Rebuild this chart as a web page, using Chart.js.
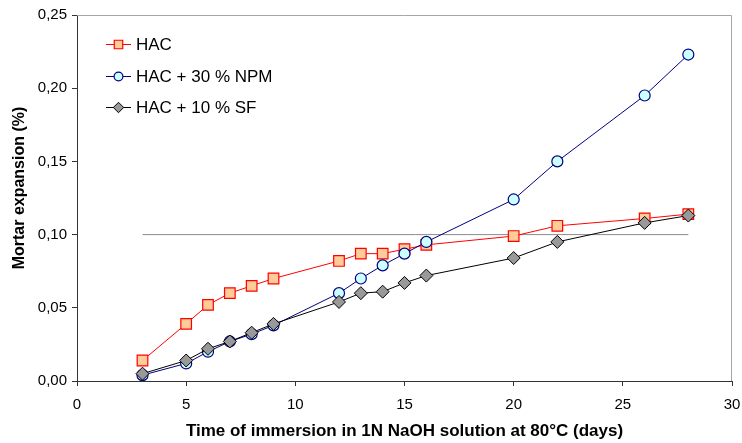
<!DOCTYPE html>
<html>
<head>
<meta charset="utf-8">
<script src="https://cdn.jsdelivr.net/npm/chart.js@4/dist/chart.umd.min.js"></script>
<style>
  html, body { margin: 0; padding: 0; background: #ffffff; }
  #wrap { width: 742px; height: 443px; position: relative; }
</style>
</head>
<body>
<div id="wrap"><canvas id="c" width="742" height="443"></canvas></div>
<script>
// ---- data ----
const days = [3, 5, 6, 7, 8, 9, 12, 13, 14, 15, 16, 20, 22, 26, 28];
const hacValues = [0.014, 0.039, 0.052, 0.060, 0.065, 0.070, 0.082, 0.087, 0.087, 0.090, 0.093, 0.099, 0.106, 0.111, 0.114];
const npmValues = [0.004, 0.012, 0.020, 0.027, 0.032, 0.038, 0.060, 0.070, 0.079, 0.087, 0.095, 0.124, 0.150, 0.195, 0.223];
const sfValues  = [0.005, 0.014, 0.022, 0.027, 0.033, 0.039, 0.054, 0.060, 0.061, 0.067, 0.072, 0.084, 0.095, 0.108, 0.113];
const refLineX = [3, 28];
const refLineY = [0.10, 0.10];
const seriesNames = ['HAC', 'HAC + 30 % NPM', 'HAC + 10 % SF'];
const xTicks = [0, 5, 10, 15, 20, 25, 30];
const yTicks = [0, 0.05, 0.10, 0.15, 0.20, 0.25];
const xTitle = 'Time of immersion in 1N NaOH solution at 80°C (days)';
const yTitle = 'Mortar expansion (%)';

const toPts = (xs, ys) => xs.map((x, i) => ({ x: x, y: ys[i] }));

const FONT = '"Liberation Sans", Arial, sans-serif';

const borderPlugin = {
  id: 'plotBorder',
  beforeDatasetsDraw(chart) {
    const a = chart.chartArea, ctx = chart.ctx;
    ctx.save();
    ctx.strokeStyle = '#a6a6a6';
    ctx.lineWidth = 1;
    ctx.beginPath();
    ctx.moveTo(a.left, a.top + 0.5);
    ctx.lineTo(a.right - 0.5, a.top + 0.5);
    ctx.lineTo(a.right - 0.5, a.bottom);
    ctx.stroke();
    ctx.restore();
  }
};

const yTitlePlugin = {
  id: 'yTitle',
  afterDraw(chart) {
    const ctx = chart.ctx;
    ctx.save();
    ctx.translate(20, 188);
    ctx.rotate(-Math.PI / 2);
    ctx.font = 'bold 16px ' + FONT;
    ctx.fillStyle = '#000';
    ctx.textAlign = 'center';
    ctx.textBaseline = 'middle';
    ctx.fillText(yTitle, 0, 0);
    ctx.restore();
  }
};

const legendPlugin = {
  id: 'insideLegend',
  afterDraw(chart) {
    const ctx = chart.ctx;
    const rows = [44, 76, 107];
    ctx.save();
    ctx.font = '17px ' + FONT;
    ctx.textBaseline = 'middle';
    ctx.textAlign = 'left';
    for (let i = 0; i < 3; i++) {
      const ds = chart.data.datasets[i];
      const y = rows[i];
      ctx.strokeStyle = ds.borderColor;
      ctx.lineWidth = 1;
      ctx.beginPath();
      ctx.moveTo(106, y + 0.5);
      ctx.lineTo(131, y + 0.5);
      ctx.stroke();
      ctx.fillStyle = ds.pointBackgroundColor;
      ctx.strokeStyle = ds.pointBorderColor;
      ctx.lineWidth = ds.pointBorderWidth;
      Chart.helpers.drawPoint(ctx, { pointStyle: ds.pointStyle, radius: ds.pointRadius * 0.8, borderWidth: ds.pointBorderWidth, rotation: 0 }, 118.5, y + 0.5);
      ctx.fillStyle = '#000000';
      ctx.fillText(ds.label, 136, y + 1);
    }
    ctx.restore();
  }
};

new Chart(document.getElementById('c'), {
  type: 'line',
  data: {
    datasets: [
      {
        label: seriesNames[0],
        data: toPts(days, hacValues),
        borderColor: '#ff0000', borderWidth: 1,
        pointStyle: 'rect', pointRadius: 7.5, pointBorderWidth: 1.2,
        pointBackgroundColor: '#ffcc99', pointBorderColor: '#ff0000',
        order: 3
      },
      {
        label: seriesNames[1],
        data: toPts(days, npmValues),
        borderColor: '#000080', borderWidth: 1,
        pointStyle: 'circle', pointRadius: 5.5, pointBorderWidth: 1.2,
        pointBackgroundColor: '#ccffff', pointBorderColor: '#000080',
        order: 2
      },
      {
        label: seriesNames[2],
        data: toPts(days, sfValues),
        borderColor: '#000000', borderWidth: 1,
        pointStyle: 'rectRot', pointRadius: 6.5, pointBorderWidth: 1,
        pointBackgroundColor: '#999999', pointBorderColor: '#000000',
        order: 1
      },
      {
        label: 'ref',
        data: toPts(refLineX, refLineY),
        borderColor: '#8c8c8c', borderWidth: 1,
        pointRadius: 0,
        order: 4
      }
    ]
  },
  options: {
    responsive: false,
    animation: false,
    devicePixelRatio: 1,
    layout: { padding: { top: 15, right: 0, left: 0, bottom: 0 } },
    plugins: { legend: { display: false }, tooltip: { enabled: false } },
    elements: { line: { tension: 0 } },
    scales: {
      x: {
        type: 'linear', min: 0, max: 30,
        afterBuildTicks: (s) => { s.ticks = xTicks.map(v => ({ value: v })); },
        afterFit: (s) => { s.height = 62; s.paddingRight = 10; },
        ticks: { font: { family: FONT, size: 15 }, color: '#000', padding: 10, maxRotation: 0 },
        grid: { display: true, drawOnChartArea: false, drawTicks: true, tickLength: 5, color: '#333333' },
        border: { display: true, color: '#333333', width: 1 },
        title: { display: true, text: xTitle, font: { family: FONT, size: 17, weight: 'bold' }, color: '#000', padding: { top: 0, bottom: 1 } }
      },
      y: {
        type: 'linear', min: 0, max: 0.25,
        afterBuildTicks: (s) => { s.ticks = yTicks.map(v => ({ value: v })); },
        afterFit: (s) => { s.width = 77; },
        ticks: {
          font: { family: FONT, size: 15 }, color: '#000', padding: 5,
          callback: (v) => (Math.round(v * 100) / 100).toFixed(2).replace('.', ',')
        },
        grid: { display: true, drawOnChartArea: false, drawTicks: true, tickLength: 5, color: '#333333' },
        border: { display: true, color: '#333333', width: 1 },
        title: { display: false }
      }
    }
  },
  plugins: [borderPlugin, yTitlePlugin, legendPlugin]
});
</script>
</body>
</html>
